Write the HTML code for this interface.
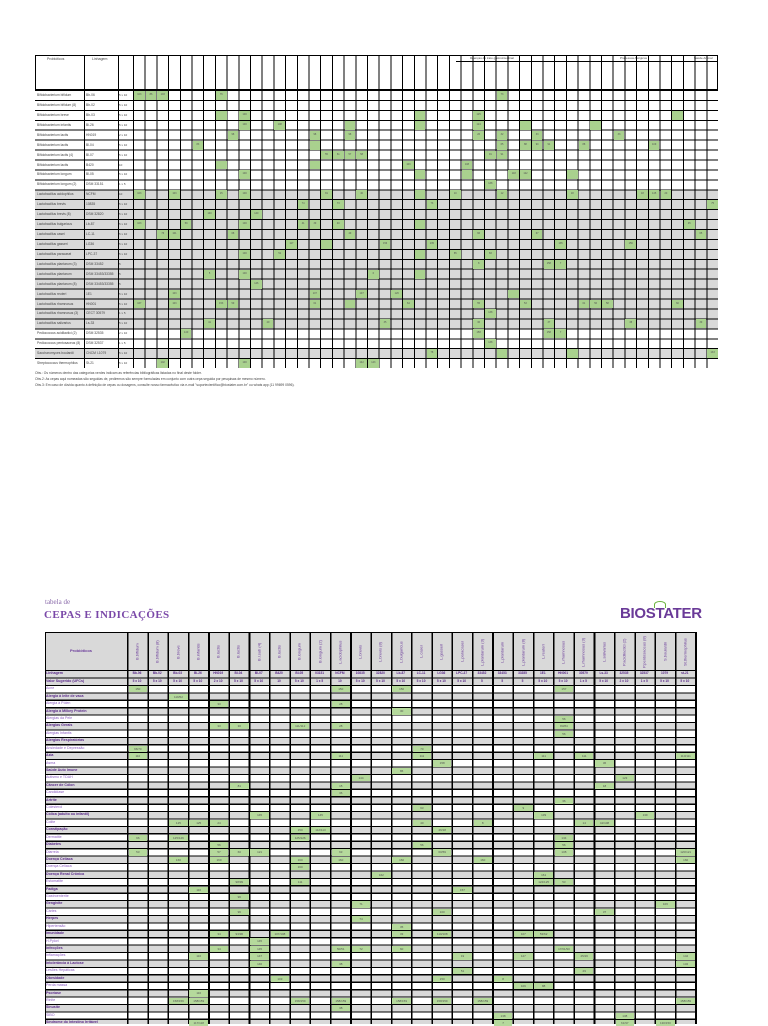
<!DOCTYPE html>
<html><head><meta charset="utf-8">
<style>
*{margin:0;padding:0;box-sizing:border-box}
body{width:768px;height:1024px;background:#fff;position:relative;overflow:hidden;font-family:"Liberation Sans",sans-serif}
.a{position:absolute}
#tb{left:35px;top:55px;width:683px;height:313px;border:1px solid #000;background:#fff}
#tfill{left:35px;top:90px;width:683px;height:278px;
background:linear-gradient(180deg,#fff 0 99.3px,#d9d9d9 99.3px 238.3px,#fff 238.3px 258.2px,#d9d9d9 258.2px 268.1px,#fff 268.1px)}
#tgrid{left:133px;top:55px;width:585px;height:313px;
background:repeating-linear-gradient(90deg,#000 0 1px,transparent 1px 11.7px)}
#tgridh{left:35px;top:90px;width:683px;height:278px;
background:repeating-linear-gradient(180deg,#000 0 1px,transparent 1px 9.93px)}
.tv{top:55px;width:1px;height:313px;background:#000}
.g{position:absolute;background:#a9d18e;width:10.7px;height:8.9px;
left:calc(134px + var(--c)*11.7px);top:calc(91px + var(--r)*9.93px);font-size:2.5px;color:#555;text-align:center;line-height:8.9px}
.tl{position:absolute;left:37px;font-size:3.3px;color:#444;top:calc(93px + var(--r)*9.93px)}
.ts{position:absolute;left:86px;font-size:3.3px;color:#444;top:calc(93px + var(--r)*9.93px)}
.tc{position:absolute;left:119px;font-size:3px;color:#444;top:calc(93px + var(--r)*9.93px)}
.note{left:35px;font-size:3.3px;color:#444;white-space:nowrap}
#bfill{left:45px;top:632px;width:650px;height:392px;
background:linear-gradient(180deg,#d9d9d9 0 53px,transparent 53px),repeating-linear-gradient(180deg,#fff 0 7.42px,#d9d9d9 7.42px 14.84px);background-position:0 0,0 53px;background-repeat:no-repeat,repeat}
#bgrid{left:127px;top:632px;width:570px;height:392px;
background:repeating-linear-gradient(90deg,#000 0 1.6px,transparent 1.6px 20.29px)}
#bgridh{left:45px;top:670.2px;width:652px;height:354px;
background:repeating-linear-gradient(180deg,#000 0 1.2px,transparent 1.2px 7.42px)}
.h{position:absolute;background:#b5d99c;width:18.5px;height:6.2px;
left:calc(128.6px + var(--c)*20.29px);top:calc(686.2px + var(--r)*7.42px);font-size:3px;color:#555;text-align:center;line-height:6.2px}
.bl{position:absolute;left:46px;font-size:3.6px;color:#8a5cc0;top:calc(686.3px + var(--r)*7.42px);white-space:nowrap}
.bl.b{color:#5a2a8a;font-weight:bold}
.bh{position:absolute;top:636px;width:20px;height:32px;font-size:4px;color:#6a3a9a;writing-mode:vertical-rl;transform:rotate(180deg);display:flex;align-items:center;justify-content:center;left:calc(127px + var(--c)*20.29px)}
.bs{position:absolute;width:20px;text-align:center;font-size:3.2px;color:#5a2a8a;font-weight:bold;left:calc(127px + var(--c)*20.29px)}
</style></head><body>

<div class="a" id="tb"></div>
<div class="a" id="tfill"></div>
<div class="a" style="left:456px;top:61px;width:262px;height:1px;background:#000"></div>
<div class="a" style="left:470px;top:56px;font-size:3px;color:#444">Doenças do trato gastrointestinal</div>
<div class="a" style="left:620px;top:56px;font-size:3px;color:#444">Processos Alérgicos</div>
<div class="a" style="left:694px;top:56px;font-size:3px;color:#444">Saúde Animal</div>
<div class="a" style="left:47px;top:57px;font-size:3.5px;color:#444">Probióticos</div>
<div class="a" style="left:92px;top:57px;font-size:3.5px;color:#444">Linhagem</div>
<div class="a" id="tgrid"></div>
<div class="a" id="tgridh"></div>
<div class="a tv" style="left:84px"></div>
<div class="a tv" style="left:118px"></div>
<div class="a" style="left:35px;top:89px;width:683px;height:1px;background:#000"></div>

<div class="tl" style="--r:0">Bifidobacterium bifidum</div><div class="ts" style="--r:0">Bb-06</div><div class="tc" style="--r:0">5 x 10</div>
<div class="tl" style="--r:1">Bifidobacterium bifidum (8)</div><div class="ts" style="--r:1">Bb-02</div><div class="tc" style="--r:1">5 x 10</div>
<div class="tl" style="--r:2">Bifidobacterium breve</div><div class="ts" style="--r:2">Bb-03</div><div class="tc" style="--r:2">5 x 10</div>
<div class="tl" style="--r:3">Bifidobacterium infantis</div><div class="ts" style="--r:3">Bi-26</div><div class="tc" style="--r:3">5 x 10</div>
<div class="tl" style="--r:4">Bifidobacterium lactis</div><div class="ts" style="--r:4">HN019</div><div class="tc" style="--r:4">2 x 10</div>
<div class="tl" style="--r:5">Bifidobacterium lactis</div><div class="ts" style="--r:5">Bl-04</div><div class="tc" style="--r:5">5 x 10</div>
<div class="tl" style="--r:6">Bifidobacterium lactis (4)</div><div class="ts" style="--r:6">Bl-07</div><div class="tc" style="--r:6">5 x 10</div>
<div class="tl" style="--r:7">Bifidobacterium lactis</div><div class="ts" style="--r:7">B420</div><div class="tc" style="--r:7">10</div>
<div class="tl" style="--r:8">Bifidobacterium longum</div><div class="ts" style="--r:8">Bl-05</div><div class="tc" style="--r:8">5 x 10</div>
<div class="tl" style="--r:9">Bifidobacterium longum (2)</div><div class="ts" style="--r:9">DSM 33151</div><div class="tc" style="--r:9">1 x 5</div>
<div class="tl" style="--r:10">Lactobacillus acidophilus</div><div class="ts" style="--r:10">NCFM</div><div class="tc" style="--r:10">10</div>
<div class="tl" style="--r:11">Lactobacillus brevis</div><div class="ts" style="--r:11">10835</div><div class="tc" style="--r:11">5 x 10</div>
<div class="tl" style="--r:12">Lactobacillus brevis (8)</div><div class="ts" style="--r:12">DSM 32820</div><div class="tc" style="--r:12">5 x 10</div>
<div class="tl" style="--r:13">Lactobacillus bulgaricus</div><div class="ts" style="--r:13">Lb-87</div><div class="tc" style="--r:13">5 x 10</div>
<div class="tl" style="--r:14">Lactobacillus casei</div><div class="ts" style="--r:14">LC-11</div><div class="tc" style="--r:14">5 x 10</div>
<div class="tl" style="--r:15">Lactobacillus gasseri</div><div class="ts" style="--r:15">LG36</div><div class="tc" style="--r:15">5 x 10</div>
<div class="tl" style="--r:16">Lactobacillus paracasei</div><div class="ts" style="--r:16">LPC-37</div><div class="tc" style="--r:16">5 x 10</div>
<div class="tl" style="--r:17">Lactobacillus plantarum (3)</div><div class="ts" style="--r:17">DSM 33452</div><div class="tc" style="--r:17">5</div>
<div class="tl" style="--r:18">Lactobacillus plantarum</div><div class="ts" style="--r:18">DSM 33453/33355</div><div class="tc" style="--r:18">5</div>
<div class="tl" style="--r:19">Lactobacillus plantarum (8)</div><div class="ts" style="--r:19">DSM 33453/33355</div><div class="tc" style="--r:19">5</div>
<div class="tl" style="--r:20">Lactobacillus reuteri</div><div class="ts" style="--r:20">1E1</div><div class="tc" style="--r:20">5 x 10</div>
<div class="tl" style="--r:21">Lactobacillus rhamnosus</div><div class="ts" style="--r:21">HN001</div><div class="tc" style="--r:21">5 x 10</div>
<div class="tl" style="--r:22">Lactobacillus rhamnosus (3)</div><div class="ts" style="--r:22">CECT 30579</div><div class="tc" style="--r:22">1 x 5</div>
<div class="tl" style="--r:23">Lactobacillus salivarius</div><div class="ts" style="--r:23">Ls-33</div><div class="tc" style="--r:23">5 x 10</div>
<div class="tl" style="--r:24">Pediococcus acidilactici (2)</div><div class="ts" style="--r:24">DSM 32535</div><div class="tc" style="--r:24">2 x 10</div>
<div class="tl" style="--r:25">Pediococcus pentosaceus (8)</div><div class="ts" style="--r:25">DSM 32537</div><div class="tc" style="--r:25">1 x 5</div>
<div class="tl" style="--r:26">Saccharomyces boulardii</div><div class="ts" style="--r:26">CNCM I-1079</div><div class="tc" style="--r:26">5 x 10</div>
<div class="tl" style="--r:27">Streptococcus thermophilus</div><div class="ts" style="--r:27">St-21</div><div class="tc" style="--r:27">5 x 10</div>

<div class="g" style="--r:0;--c:0">103</div><div class="g" style="--r:0;--c:1">86</div><div class="g" style="--r:0;--c:2">103</div><div class="g" style="--r:0;--c:7">76</div><div class="g" style="--r:0;--c:31">73</div>
<div class="g" style="--r:2;--c:7"></div><div class="g" style="--r:2;--c:9">100</div><div class="g" style="--r:2;--c:24"></div><div class="g" style="--r:2;--c:29">125</div><div class="g" style="--r:2;--c:46"></div>
<div class="g" style="--r:3;--c:9">100</div><div class="g" style="--r:3;--c:12">108</div><div class="g" style="--r:3;--c:18"></div><div class="g" style="--r:3;--c:24"></div><div class="g" style="--r:3;--c:29">124</div><div class="g" style="--r:3;--c:33"></div><div class="g" style="--r:3;--c:39"></div>
<div class="g" style="--r:4;--c:8">98</div><div class="g" style="--r:4;--c:15">98</div><div class="g" style="--r:4;--c:18">98</div><div class="g" style="--r:4;--c:29">26</div><div class="g" style="--r:4;--c:31">32</div><div class="g" style="--r:4;--c:34">33</div><div class="g" style="--r:4;--c:41">33</div>
<div class="g" style="--r:5;--c:5">83</div><div class="g" style="--r:5;--c:15"></div><div class="g" style="--r:5;--c:31">65</div><div class="g" style="--r:5;--c:33">88</div><div class="g" style="--r:5;--c:34">90</div><div class="g" style="--r:5;--c:35">91</div><div class="g" style="--r:5;--c:38">88</div><div class="g" style="--r:5;--c:44">109</div>
<div class="g" style="--r:6;--c:16">55</div><div class="g" style="--r:6;--c:17">61</div><div class="g" style="--r:6;--c:18">57</div><div class="g" style="--r:6;--c:19">58</div><div class="g" style="--r:6;--c:30">91</div><div class="g" style="--r:6;--c:31">91</div>
<div class="g" style="--r:7;--c:7"></div><div class="g" style="--r:7;--c:15"></div><div class="g" style="--r:7;--c:23">103</div><div class="g" style="--r:7;--c:28">108</div>
<div class="g" style="--r:8;--c:9">100</div><div class="g" style="--r:8;--c:24"></div><div class="g" style="--r:8;--c:28"></div><div class="g" style="--r:8;--c:32">118</div><div class="g" style="--r:8;--c:33">122</div><div class="g" style="--r:8;--c:37"></div>
<div class="g" style="--r:9;--c:30">138</div>
<div class="g" style="--r:10;--c:0">103</div><div class="g" style="--r:10;--c:3">103</div><div class="g" style="--r:10;--c:7">15</div><div class="g" style="--r:10;--c:9">100</div><div class="g" style="--r:10;--c:16">81</div><div class="g" style="--r:10;--c:19">40</div><div class="g" style="--r:10;--c:24"></div><div class="g" style="--r:10;--c:27">10</div><div class="g" style="--r:10;--c:31">12</div><div class="g" style="--r:10;--c:37">18</div><div class="g" style="--r:10;--c:43">18</div><div class="g" style="--r:10;--c:44">145</div><div class="g" style="--r:10;--c:45">20</div>
<div class="g" style="--r:11;--c:14">74</div><div class="g" style="--r:11;--c:17">73</div><div class="g" style="--r:11;--c:25">73</div><div class="g" style="--r:11;--c:49">75</div>
<div class="g" style="--r:12;--c:6">140</div><div class="g" style="--r:12;--c:10">140</div>
<div class="g" style="--r:13;--c:0">103</div><div class="g" style="--r:13;--c:4">59</div><div class="g" style="--r:13;--c:9">100</div><div class="g" style="--r:13;--c:14">41</div><div class="g" style="--r:13;--c:15">39</div><div class="g" style="--r:13;--c:17">40</div><div class="g" style="--r:13;--c:24"></div><div class="g" style="--r:13;--c:47">45</div>
<div class="g" style="--r:14;--c:2">76</div><div class="g" style="--r:14;--c:3">101</div><div class="g" style="--r:14;--c:8">68</div><div class="g" style="--r:14;--c:18">49</div><div class="g" style="--r:14;--c:29">66</div><div class="g" style="--r:14;--c:34">67</div><div class="g" style="--r:14;--c:48">65</div>
<div class="g" style="--r:15;--c:13">117</div><div class="g" style="--r:15;--c:16"></div><div class="g" style="--r:15;--c:21">156</div><div class="g" style="--r:15;--c:25">135</div><div class="g" style="--r:15;--c:36">135</div><div class="g" style="--r:15;--c:42">156</div>
<div class="g" style="--r:16;--c:9">100</div><div class="g" style="--r:16;--c:12">51</div><div class="g" style="--r:16;--c:24"></div><div class="g" style="--r:16;--c:27">85</div><div class="g" style="--r:16;--c:30">83</div>
<div class="g" style="--r:17;--c:29">8</div><div class="g" style="--r:17;--c:35">158</div><div class="g" style="--r:17;--c:36">7</div>
<div class="g" style="--r:18;--c:6">5</div><div class="g" style="--r:18;--c:9">100</div><div class="g" style="--r:18;--c:20">6</div><div class="g" style="--r:18;--c:24"></div>
<div class="g" style="--r:19;--c:10">146</div>
<div class="g" style="--r:20;--c:3">103</div><div class="g" style="--r:20;--c:15">107</div><div class="g" style="--r:20;--c:19">107</div><div class="g" style="--r:20;--c:22">126</div><div class="g" style="--r:20;--c:32"></div>
<div class="g" style="--r:21;--c:0">167</div><div class="g" style="--r:21;--c:3">103</div><div class="g" style="--r:21;--c:7">153</div><div class="g" style="--r:21;--c:8">59</div><div class="g" style="--r:21;--c:15">61</div><div class="g" style="--r:21;--c:18"></div><div class="g" style="--r:21;--c:23">64</div><div class="g" style="--r:21;--c:29">55</div><div class="g" style="--r:21;--c:33">53</div><div class="g" style="--r:21;--c:38">61</div><div class="g" style="--r:21;--c:39">56</div><div class="g" style="--r:21;--c:40">58</div><div class="g" style="--r:21;--c:46">60</div>
<div class="g" style="--r:22;--c:30">138</div>
<div class="g" style="--r:23;--c:6">41</div><div class="g" style="--r:23;--c:11">29</div><div class="g" style="--r:23;--c:21">35</div><div class="g" style="--r:23;--c:29">36</div><div class="g" style="--r:23;--c:35">37</div><div class="g" style="--r:23;--c:42">38</div><div class="g" style="--r:23;--c:48">39</div>
<div class="g" style="--r:24;--c:4">140</div><div class="g" style="--r:24;--c:29">158</div><div class="g" style="--r:24;--c:35">158</div><div class="g" style="--r:24;--c:36">7</div>
<div class="g" style="--r:25;--c:30">138</div>
<div class="g" style="--r:26;--c:25">78</div><div class="g" style="--r:26;--c:31"></div><div class="g" style="--r:26;--c:37"></div><div class="g" style="--r:26;--c:49">133</div>
<div class="g" style="--r:27;--c:2">102</div><div class="g" style="--r:27;--c:9">100</div><div class="g" style="--r:27;--c:19">142</div><div class="g" style="--r:27;--c:20">143</div>

<div class="a note" style="top:371px">Obs.: Os números dentro das categorias verdes indicam as referências bibliográficas listadas no final deste folder.</div>
<div class="a note" style="top:377px">Obs.2: As cepas aqui nomeadas são seguidas de, pediremos são sempre formuladas em conjunto com outra cepa seguida por pesquisas de mesmo número.</div>
<div class="a note" style="top:383px">Obs.3: Em caso de dúvida quanto à definição de cepas ou dosagens, consulte nosso farmacêutico via e-mail "suportecientifico@biostater.com.br" ou whats app (11 99699 0596).</div>

<div class="a" style="left:45px;top:598px;font-family:'Liberation Serif',serif;font-size:7px;color:#8a6aaa">tabela de</div>
<div class="a" style="left:44px;top:609px;font-family:'Liberation Serif',serif;font-size:11px;letter-spacing:.4px;color:#7a48a8;font-weight:bold">CEPAS E INDICAÇÕES</div>
<div class="a" style="left:620px;top:605px;font-size:15px;font-weight:bold;color:#6a3a98;letter-spacing:-.3px">BIOSTATER</div>
<div class="a" style="left:654px;top:601px;width:12px;height:7px;border:1.5px solid #6cb33f;border-radius:50% 50% 0 0;border-bottom:none"></div>

<div class="a" id="bfill"></div>
<div class="a" style="left:45px;top:632px;width:652px;height:392px;border:1.6px solid #000;border-bottom:none"></div>
<div class="a" id="bgrid"></div>
<div class="a" id="bgridh"></div>
<div class="a" style="left:70px;top:648px;font-size:4px;color:#6a3a9a;font-weight:bold">Probióticos</div>

<div class="bh" style="--c:0">B.bifidum</div><div class="bh" style="--c:1">B.bifidum (8)</div><div class="bh" style="--c:2">B.breve</div><div class="bh" style="--c:3">B.infantis</div><div class="bh" style="--c:4">B.lactis</div><div class="bh" style="--c:5">B.lactis</div><div class="bh" style="--c:6">B.l.sub (4)</div><div class="bh" style="--c:7">B.lactis</div><div class="bh" style="--c:8">B.longum</div><div class="bh" style="--c:9">B.longum (2)</div><div class="bh" style="--c:10">L.acidophilus</div><div class="bh" style="--c:11">L.brevis</div><div class="bh" style="--c:12">L.brevis (8)</div><div class="bh" style="--c:13">L.bulgaricus</div><div class="bh" style="--c:14">L.casei</div><div class="bh" style="--c:15">L.gasseri</div><div class="bh" style="--c:16">L.paracasei</div><div class="bh" style="--c:17">L.plantarum (3)</div><div class="bh" style="--c:18">L.plantarum</div><div class="bh" style="--c:19">L.plantarum (8)</div><div class="bh" style="--c:20">L.reuteri</div><div class="bh" style="--c:21">L.rhamnosus</div><div class="bh" style="--c:22">L.rhamnosus (3)</div><div class="bh" style="--c:23">L.salivarius</div><div class="bh" style="--c:24">P.acidilactici (2)</div><div class="bh" style="--c:25">P.pentosaceus (8)</div><div class="bh" style="--c:26">S.boulardii</div><div class="bh" style="--c:27">St.thermophilus</div>

<div class="a" style="left:46px;top:671px;font-size:3.6px;color:#5a2a8a;font-weight:bold">Linhagem</div>
<div class="a" style="left:46px;top:678.5px;font-size:3.6px;color:#5a2a8a;font-weight:bold">Valor Sugerido (UFCs)</div>
<div style="position:absolute;top:671px;left:0">
<div class="bs" style="--c:0">Bb-06</div><div class="bs" style="--c:1">Bb-02</div><div class="bs" style="--c:2">Bb-03</div><div class="bs" style="--c:3">Bi-26</div><div class="bs" style="--c:4">HN019</div><div class="bs" style="--c:5">Bl-04</div><div class="bs" style="--c:6">Bl-07</div><div class="bs" style="--c:7">B420</div><div class="bs" style="--c:8">Bl-05</div><div class="bs" style="--c:9">03151</div><div class="bs" style="--c:10">NCFM</div><div class="bs" style="--c:11">10835</div><div class="bs" style="--c:12">32820</div><div class="bs" style="--c:13">Lb-87</div><div class="bs" style="--c:14">LC-11</div><div class="bs" style="--c:15">LG36</div><div class="bs" style="--c:16">LPC-37</div><div class="bs" style="--c:17">33452</div><div class="bs" style="--c:18">33453</div><div class="bs" style="--c:19">33355</div><div class="bs" style="--c:20">1E1</div><div class="bs" style="--c:21">HN001</div><div class="bs" style="--c:22">30579</div><div class="bs" style="--c:23">Ls-33</div><div class="bs" style="--c:24">32535</div><div class="bs" style="--c:25">32537</div><div class="bs" style="--c:26">1079</div><div class="bs" style="--c:27">st-21</div>
</div>
<div style="position:absolute;top:678.5px;left:0">
<div class="bs" style="--c:0">5 x 10</div><div class="bs" style="--c:1">5 x 10</div><div class="bs" style="--c:2">5 x 10</div><div class="bs" style="--c:3">5 x 10</div><div class="bs" style="--c:4">2 x 10</div><div class="bs" style="--c:5">5 x 10</div><div class="bs" style="--c:6">5 x 10</div><div class="bs" style="--c:7">10</div><div class="bs" style="--c:8">5 x 10</div><div class="bs" style="--c:9">1 x 5</div><div class="bs" style="--c:10">10</div><div class="bs" style="--c:11">5 x 10</div><div class="bs" style="--c:12">5 x 10</div><div class="bs" style="--c:13">5 x 10</div><div class="bs" style="--c:14">5 x 10</div><div class="bs" style="--c:15">5 x 10</div><div class="bs" style="--c:16">5 x 10</div><div class="bs" style="--c:17">5</div><div class="bs" style="--c:18">5</div><div class="bs" style="--c:19">5</div><div class="bs" style="--c:20">5 x 10</div><div class="bs" style="--c:21">5 x 10</div><div class="bs" style="--c:22">1 x 5</div><div class="bs" style="--c:23">5 x 10</div><div class="bs" style="--c:24">2 x 10</div><div class="bs" style="--c:25">1 x 5</div><div class="bs" style="--c:26">5 x 10</div><div class="bs" style="--c:27">5 x 10</div>
</div>

<div class="bl" style="--r:0">Acne</div>
<div class="bl b" style="--r:1">Alergia à leite de vaca</div>
<div class="bl" style="--r:2">Alergia à Pólen</div>
<div class="bl b" style="--r:3">Alergia à Milkey Protein</div>
<div class="bl" style="--r:4">Alergias da Pele</div>
<div class="bl b" style="--r:5">Alergias Gerais</div>
<div class="bl" style="--r:6">Alergias Infantis</div>
<div class="bl b" style="--r:7">Alergias Respiratórias</div>
<div class="bl" style="--r:8">Ansiedade e Depressão</div>
<div class="bl b" style="--r:9">Azia</div>
<div class="bl" style="--r:10">Asma</div>
<div class="bl b" style="--r:11">Saúde Auto Imune</div>
<div class="bl" style="--r:12">Autismo e TDAH</div>
<div class="bl b" style="--r:13">Câncer de Cólon</div>
<div class="bl" style="--r:14">Candidíase</div>
<div class="bl b" style="--r:15">Artrite</div>
<div class="bl" style="--r:16">Colesterol</div>
<div class="bl b" style="--r:17">Cólica (adulto ou infantil)</div>
<div class="bl" style="--r:18">Colite</div>
<div class="bl b" style="--r:19">Constipação</div>
<div class="bl" style="--r:20">Dermatite</div>
<div class="bl b" style="--r:21">Diabetes</div>
<div class="bl" style="--r:22">Diarreia</div>
<div class="bl b" style="--r:23">Doença Celíaca</div>
<div class="bl" style="--r:24">Doença Celíaca</div>
<div class="bl b" style="--r:25">Doença Renal Crônica</div>
<div class="bl" style="--r:26">Estomatite</div>
<div class="bl b" style="--r:27">Fadiga</div>
<div class="bl" style="--r:28">Gastroenterite</div>
<div class="bl b" style="--r:29">Gengivite</div>
<div class="bl" style="--r:30">Cáries</div>
<div class="bl b" style="--r:31">Herpes</div>
<div class="bl" style="--r:32">Hipertensão</div>
<div class="bl b" style="--r:33">Imunidade</div>
<div class="bl" style="--r:34">H.Pylori</div>
<div class="bl b" style="--r:35">Infecções</div>
<div class="bl" style="--r:36">Inflamações</div>
<div class="bl b" style="--r:37">Intolerância à Lactose</div>
<div class="bl" style="--r:38">Lesões Hepáticas</div>
<div class="bl b" style="--r:39">Obesidade</div>
<div class="bl" style="--r:40">Perda massa</div>
<div class="bl b" style="--r:41">Psoríase</div>
<div class="bl" style="--r:42">Rinite</div>
<div class="bl b" style="--r:43">Sinusite</div>
<div class="bl" style="--r:44">SIBO</div>
<div class="bl b" style="--r:45">Síndrome do Intestino Irritável</div>

<div class="h" style="--r:0;--c:0">150</div><div class="h" style="--r:0;--c:10">150</div><div class="h" style="--r:0;--c:13">150</div><div class="h" style="--r:0;--c:21">157</div>
<div class="h" style="--r:1;--c:2">119/52</div>
<div class="h" style="--r:2;--c:4">33</div><div class="h" style="--r:2;--c:10">28</div>
<div class="h" style="--r:3;--c:13">30</div>
<div class="h" style="--r:4;--c:21">56</div>
<div class="h" style="--r:5;--c:4">33</div><div class="h" style="--r:5;--c:5">30</div><div class="h" style="--r:5;--c:8">111/112</div><div class="h" style="--r:5;--c:10">28</div><div class="h" style="--r:5;--c:21">83/84</div>
<div class="h" style="--r:6;--c:21">56</div>
<div class="h" style="--r:8;--c:0">66/70</div><div class="h" style="--r:8;--c:14">70</div>
<div class="h" style="--r:9;--c:0">110</div><div class="h" style="--r:9;--c:10">111</div><div class="h" style="--r:9;--c:14">111</div><div class="h" style="--r:9;--c:20">111</div><div class="h" style="--r:9;--c:22">111</div><div class="h" style="--r:9;--c:27">110/111</div>
<div class="h" style="--r:10;--c:15">158</div><div class="h" style="--r:10;--c:23">36</div>
<div class="h" style="--r:11;--c:13">86</div>
<div class="h" style="--r:12;--c:11">144</div><div class="h" style="--r:12;--c:24">123</div>
<div class="h" style="--r:13;--c:5">81</div><div class="h" style="--r:13;--c:10">15</div><div class="h" style="--r:13;--c:23">18</div>
<div class="h" style="--r:14;--c:10">36</div>
<div class="h" style="--r:15;--c:21">36</div>
<div class="h" style="--r:16;--c:14">63</div><div class="h" style="--r:16;--c:19">9</div>
<div class="h" style="--r:17;--c:6">145</div><div class="h" style="--r:17;--c:9">145</div><div class="h" style="--r:17;--c:20">139</div><div class="h" style="--r:17;--c:25">139</div>
<div class="h" style="--r:18;--c:2">125</div><div class="h" style="--r:18;--c:3">125</div><div class="h" style="--r:18;--c:4">24</div><div class="h" style="--r:18;--c:14">40</div><div class="h" style="--r:18;--c:17">8</div><div class="h" style="--r:18;--c:22">14</div><div class="h" style="--r:18;--c:23">42/108</div>
<div class="h" style="--r:19;--c:8">150</div><div class="h" style="--r:19;--c:9">112/113</div><div class="h" style="--r:19;--c:15">46/18</div>
<div class="h" style="--r:20;--c:0">96</div><div class="h" style="--r:20;--c:2">125/126</div><div class="h" style="--r:20;--c:8">125/126</div><div class="h" style="--r:20;--c:21">134</div>
<div class="h" style="--r:21;--c:4">56</div><div class="h" style="--r:21;--c:14">56</div><div class="h" style="--r:21;--c:21">56</div>
<div class="h" style="--r:22;--c:0">53</div><div class="h" style="--r:22;--c:4">57</div><div class="h" style="--r:22;--c:5">60</div><div class="h" style="--r:22;--c:6">121</div><div class="h" style="--r:22;--c:10">63</div><div class="h" style="--r:22;--c:15">60/59</div><div class="h" style="--r:22;--c:21">108</div><div class="h" style="--r:22;--c:27">120/121</div>
<div class="h" style="--r:23;--c:2">160</div><div class="h" style="--r:23;--c:4">160</div><div class="h" style="--r:23;--c:8">160</div><div class="h" style="--r:23;--c:10">160</div><div class="h" style="--r:23;--c:13">160</div><div class="h" style="--r:23;--c:17">160</div><div class="h" style="--r:23;--c:27">160</div>
<div class="h" style="--r:24;--c:8">160</div>
<div class="h" style="--r:25;--c:12">162</div><div class="h" style="--r:25;--c:20">161</div>
<div class="h" style="--r:26;--c:5">98/99</div><div class="h" style="--r:26;--c:8">111</div><div class="h" style="--r:26;--c:20">124/125</div><div class="h" style="--r:26;--c:21">53</div>
<div class="h" style="--r:27;--c:3">116</div><div class="h" style="--r:27;--c:16">157</div>
<div class="h" style="--r:28;--c:5">96</div>
<div class="h" style="--r:29;--c:11">71</div><div class="h" style="--r:29;--c:26">106</div>
<div class="h" style="--r:30;--c:5">96</div><div class="h" style="--r:30;--c:15">100</div><div class="h" style="--r:30;--c:23">37</div>
<div class="h" style="--r:31;--c:11">74</div>
<div class="h" style="--r:32;--c:13">35</div>
<div class="h" style="--r:33;--c:4">34</div><div class="h" style="--r:33;--c:5">93/96</div><div class="h" style="--r:33;--c:7">107/108</div><div class="h" style="--r:33;--c:13">33</div><div class="h" style="--r:33;--c:15">110/108</div><div class="h" style="--r:33;--c:19">107</div><div class="h" style="--r:33;--c:20">53/62</div>
<div class="h" style="--r:34;--c:6">145</div>
<div class="h" style="--r:35;--c:4">34</div><div class="h" style="--r:35;--c:6">145</div><div class="h" style="--r:35;--c:10">50/51</div><div class="h" style="--r:35;--c:11">72</div><div class="h" style="--r:35;--c:13">60</div><div class="h" style="--r:35;--c:21">17/61/90</div>
<div class="h" style="--r:36;--c:3">116</div><div class="h" style="--r:36;--c:6">147</div><div class="h" style="--r:36;--c:16">19</div><div class="h" style="--r:36;--c:19">127</div><div class="h" style="--r:36;--c:22">25/26</div><div class="h" style="--r:36;--c:27">142</div>
<div class="h" style="--r:37;--c:6">146</div><div class="h" style="--r:37;--c:10">38</div><div class="h" style="--r:37;--c:27">132</div>
<div class="h" style="--r:38;--c:16">51</div><div class="h" style="--r:38;--c:22">29</div>
<div class="h" style="--r:39;--c:7">103</div><div class="h" style="--r:39;--c:15">150</div><div class="h" style="--r:39;--c:18">8</div>
<div class="h" style="--r:40;--c:19">109</div><div class="h" style="--r:40;--c:20">88</div>
<div class="h" style="--r:41;--c:3">116</div>
<div class="h" style="--r:42;--c:2">158/159</div><div class="h" style="--r:42;--c:3">158/159</div><div class="h" style="--r:42;--c:8">158/159</div><div class="h" style="--r:42;--c:10">158/159</div><div class="h" style="--r:42;--c:13">158/159</div><div class="h" style="--r:42;--c:15">158/159</div><div class="h" style="--r:42;--c:17">158/159</div><div class="h" style="--r:42;--c:27">158/159</div>
<div class="h" style="--r:43;--c:10">38</div>
<div class="h" style="--r:44;--c:18">138</div><div class="h" style="--r:44;--c:24">138</div>
<div class="h" style="--r:45;--c:3">117/118</div><div class="h" style="--r:45;--c:18">7</div><div class="h" style="--r:45;--c:24">61/97</div><div class="h" style="--r:45;--c:26">130/150</div>
</body></html>
